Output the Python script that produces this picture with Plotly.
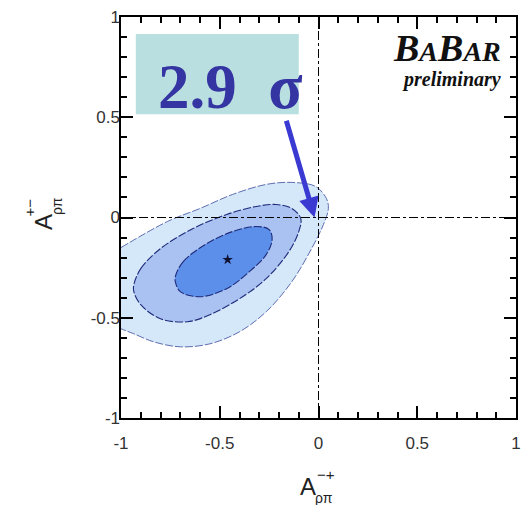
import plotly.graph_objects as go

# Confidence-region boundaries in (A_rho_pi^{-+}, A_rho_pi^{+-})
outer_x = [-1.0, -0.765, -0.60, -0.435, -0.265, -0.135, -0.015, 0.04, 0.05, 0.025,
           -0.035, -0.135, -0.265, -0.40, -0.55, -0.70, -0.835, -0.935, -1.0]
outer_y = [-0.15, -0.02, 0.045, 0.115, 0.165, 0.175, 0.155, 0.095, 0.045, -0.035,
           -0.155, -0.32, -0.47, -0.57, -0.63, -0.645, -0.62, -0.58, -0.555]

middle_x = [-0.935, -0.90, -0.80, -0.635, -0.465, -0.315, -0.215, -0.135, -0.09, -0.10,
            -0.15, -0.265, -0.40, -0.55, -0.665, -0.80, -0.90, -0.935, -0.935]
middle_y = [-0.335, -0.255, -0.155, -0.055, 0.015, 0.055, 0.065, 0.045, -0.005, -0.07,
            -0.17, -0.305, -0.405, -0.485, -0.52, -0.505, -0.435, -0.37, -0.335]

inner_x = [-0.725, -0.685, -0.565, -0.435, -0.315, -0.25, -0.235, -0.265, -0.35, -0.465,
           -0.60, -0.70, -0.725, -0.725]
inner_y = [-0.295, -0.22, -0.13, -0.07, -0.045, -0.06, -0.11, -0.185, -0.27, -0.355,
           -0.395, -0.37, -0.32, -0.295]

# Best-fit point
best_x = [-0.46]
best_y = [-0.21]

# Significance callout
sigma_label = "2.9&nbsp;&nbsp;σ"
box_x = [-0.925, -0.10]
box_y = [0.515, 0.915]
arrow_from = (-0.165, 0.49)
arrow_to = (-0.02, 0.0)

tick_vals = [-1, -0.5, 0, 0.5, 1]
tick_text = ["-1", "-0.5", "0", "0.5", "1"]

fig = go.Figure()

regions = [
    (outer_x, outer_y, "#d4e8fa", "#3b4a9a", 0.8),
    (middle_x, middle_y, "#a9c2f1", "#1f2a7a", 1.1),
    (inner_x, inner_y, "#5b8fe9", "#1f2a7a", 1.1),
]
for xs, ys, fillc, linec, lw in regions:
    fig.add_trace(go.Scatter(
        x=xs, y=ys, mode="lines", fill="toself", fillcolor=fillc,
        line=dict(color=linec, width=lw, shape="spline", smoothing=1.0, dash="8px,2px"),
        hoverinfo="skip", showlegend=False,
    ))

fig.add_trace(go.Scatter(
    x=best_x, y=best_y, mode="markers",
    marker=dict(symbol="star", size=8, color="#101030"),
    showlegend=False,
))

# Empty traces that bring the overlay axes to life
for xa, ya in [("x2", "y2"), ("x3", "y3")]:
    fig.add_trace(go.Scatter(x=[None], y=[None], xaxis=xa, yaxis=ya,
                             showlegend=False, hoverinfo="skip"))

# Zero reference lines
fig.add_shape(type="line", x0=0, x1=0, y0=-1, y1=1, xref="x", yref="y",
              line=dict(color="black", width=1, dash="dashdot"))
fig.add_shape(type="line", x0=-1, x1=1, y0=0, y1=0, xref="x", yref="y",
              line=dict(color="black", width=1, dash="dashdot"))

# Callout box
fig.add_shape(type="rect", x0=box_x[0], x1=box_x[1], y0=box_y[0], y1=box_y[1],
              xref="x", yref="y", fillcolor="#b9dfe1", line=dict(width=0), layer="above")

fig.add_annotation(
    x=-0.445, y=0.65, xref="x", yref="y",
    text="<b>" + sigma_label + "</b>", showarrow=False,
    font=dict(family="Liberation Serif", size=63, color="#3434a2"),
    xanchor="center", yanchor="middle",
)

fig.add_annotation(
    x=arrow_to[0], y=arrow_to[1], ax=arrow_from[0], ay=arrow_from[1],
    xref="x", yref="y", axref="x", ayref="y",
    showarrow=True, arrowhead=2, arrowsize=0.8, arrowwidth=5,
    arrowcolor="#3a3ad2", text="",
)

# Experiment tag
fig.add_annotation(
    x=0.935, y=0.73, xref="x", yref="y", xanchor="right", yanchor="bottom",
    text="<b><i>B<span style='font-size:28px'>A</span>B<span style='font-size:28px'>AR</span></i></b>",
    showarrow=False, font=dict(family="Liberation Serif", size=38, color="#111111"),
)
fig.add_annotation(
    x=0.935, y=0.62, xref="x", yref="y", xanchor="right", yanchor="bottom",
    text="<b><i>preliminary</i></b>", showarrow=False,
    font=dict(family="Liberation Serif", size=20, color="#111111"),
)

# Axis titles built from stacked pieces (paper coordinates)
lab_font = dict(family="Liberation Sans", color="#222222")
fig.add_annotation(x=0.4725, y=-0.172, xref="paper", yref="paper", text="A", showarrow=False,
                   font=dict(size=24, **lab_font), xanchor="center", yanchor="middle")
fig.add_annotation(x=0.52, y=-0.14, xref="paper", yref="paper", text="−+", showarrow=False,
                   font=dict(size=15, **lab_font), xanchor="center", yanchor="middle")
fig.add_annotation(x=0.515, y=-0.2, xref="paper", yref="paper", text="ρπ", showarrow=False,
                   font=dict(size=14, **lab_font), xanchor="center", yanchor="middle")

fig.add_annotation(x=-0.195, y=0.489, xref="paper", yref="paper", text="A", showarrow=False,
                   font=dict(size=24, **lab_font), textangle=-90, xanchor="center", yanchor="middle")
fig.add_annotation(x=-0.232, y=0.526, xref="paper", yref="paper", text="+−", showarrow=False,
                   font=dict(size=15, **lab_font), textangle=-90, xanchor="center", yanchor="middle")
fig.add_annotation(x=-0.162, y=0.5287, xref="paper", yref="paper", text="ρπ", showarrow=False,
                   font=dict(size=14, **lab_font), textangle=-90, xanchor="center", yanchor="middle")

# Main axes: frame line with major inward ticks every 0.5 on all four sides
major_axis = dict(
    range=[-1, 1], tickmode="linear", tick0=-1, dtick=0.5,
    ticks="inside", ticklen=12, tickwidth=2, tickcolor="black",
    showline=True, linecolor="black", linewidth=1.6, mirror="ticks",
    showgrid=False, zeroline=False, showticklabels=False,
)

# Overlay axes: minor inward ticks every 0.1 on all four sides
minor_axis = dict(
    range=[-1, 1], tickmode="linear", tick0=-1, dtick=0.1,
    ticks="inside", ticklen=6, tickwidth=1.5, tickcolor="black",
    showline=False, mirror="ticks",
    showgrid=False, zeroline=False, showticklabels=False,
)

# Overlay axes carrying the tick labels
label_axis = dict(
    range=[-1, 1], tickmode="array", tickvals=tick_vals, ticktext=tick_text,
    ticks="", showline=False, showgrid=False, zeroline=False,
    tickfont=dict(family="Liberation Sans", size=17, color="#333333"),
)

fig.update_layout(
    width=526, height=505,
    margin=dict(l=121, r=5, t=17, b=87),
    paper_bgcolor="white", plot_bgcolor="white",
    xaxis=dict(**major_axis),
    yaxis=dict(**major_axis),
    xaxis3=dict(**minor_axis, overlaying="x", side="bottom", anchor="y3"),
    yaxis3=dict(**minor_axis, overlaying="y", side="left", anchor="x3"),
    xaxis2=dict(**label_axis, overlaying="x", side="bottom", anchor="y2", ticklabelstandoff=13),
    yaxis2=dict(**label_axis, overlaying="y", side="left", anchor="x2", ticklabelstandoff=0),
    showlegend=False,
)

fig.write_html("out.html")
